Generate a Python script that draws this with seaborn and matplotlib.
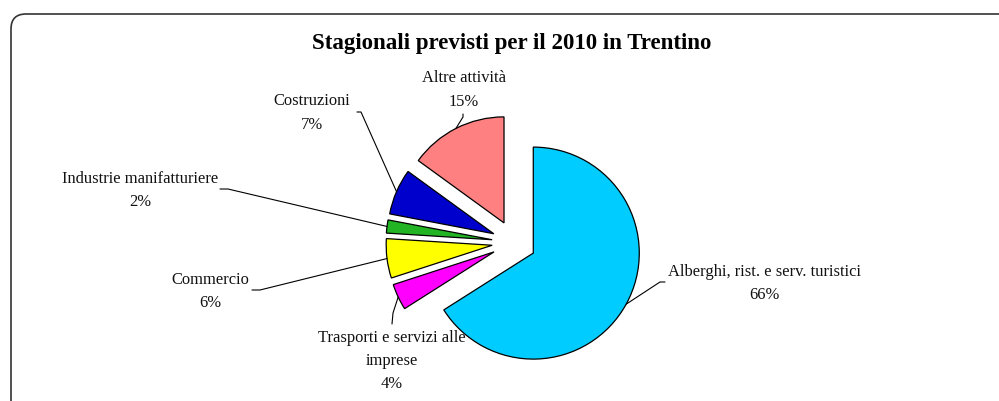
import numpy as np
import matplotlib
matplotlib.use("Agg")
import matplotlib.pyplot as plt
import seaborn as sns
from matplotlib.patches import FancyBboxPatch

# ---- data ----
categories = ["Alberghi, rist. e serv. turistici", "Trasporti e servizi alle\nimprese",
              "Commercio", "Industrie manifatturiere", "Costruzioni", "Altre attività"]
values = [66, 4, 6, 2, 7, 15]
colors = ["#00CCFF", "#FF00FF", "#FFFF00", "#22B422", "#0000CC", "#FF8080"]
title = "Stagionali previsti per il 2010 in Trentino"

sns.set_theme(style="white")
plt.rcParams['font.family'] = ['Liberation Serif', 'DejaVu Serif']

W, H = 999, 401
fig = plt.figure(figsize=(W / 100, H / 100), dpi=100)
ax = fig.add_axes([0, 0, 1, 1])

def Y(y):
    return H - y

# pie geometry (pixel units)
cx, cy, R, expl = 514, 242.5, 106, 22
wedges, _ = ax.pie(values, colors=colors, startangle=90, counterclock=False,
                   center=(cx, Y(cy)), radius=R, explode=[expl] * len(values),
                   wedgeprops=dict(edgecolor="black", linewidth=0.9), frame=False)
ax.set_xlim(0, W)
ax.set_ylim(0, H)
ax.set_aspect('auto')
ax.axis('off')

# label layout: (text center x, text center y, leader elbow points)
layout = [
    (764, 283.5, [(665, 282), (660, 282)]),
    (392, 361, [(392, 324), (393, 313)]),
    (210, 291.5, [(252, 290), (260, 290)]),
    (140, 190.5, [(220, 189), (228, 189)]),
    (312, 113, [(357, 112), (361, 112)]),
    (464, 90, [(463, 114), (463, 117)]),
]

for w, cat, val, (tx, ty, elbow) in zip(wedges, categories, values, layout):
    ax.text(tx, Y(ty), f"{cat}\n{val}%", ha="center", va="center",
            fontsize=11.9, linespacing=1.62, color="#111111")
    thm = np.deg2rad((w.theta1 + w.theta2) / 2)
    ex, ey = w.center
    ax_pt = (ex + w.r * np.cos(thm), ey + w.r * np.sin(thm))
    xs = [p[0] for p in elbow] + [ax_pt[0]]
    ys = [Y(p[1]) for p in elbow] + [ax_pt[1]]
    ax.plot(xs, ys, color="black", lw=0.8)

ax.text(512, Y(43), title, ha="center", va="center", fontsize=16.5,
        fontweight="bold", color="black")

frame = FancyBboxPatch((11, Y(420)), 1020, 420 - 14,
                       boxstyle="round,pad=0,rounding_size=15",
                       fill=False, edgecolor="#333333", lw=1.2,
                       transform=ax.transData, clip_on=False)
ax.add_patch(frame)

fig.savefig("out.png", dpi=100)
